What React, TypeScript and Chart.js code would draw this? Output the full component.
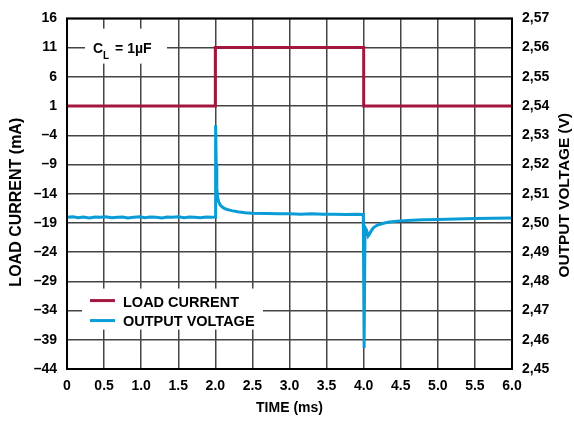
import React, { useEffect, useRef } from "react";
import { Chart, registerables } from "chart.js";

Chart.register(...registerables);

// Load current (mA) vs time (ms)
const currentTime = [0, 2.0, 2.0, 4.0, 4.0, 6.0];
const currentValues = [1, 1, 11, 11, 1, 1];

// Output voltage (V) vs time (ms)
const voltageTime = [
  0, 0.08, 0.15, 0.22, 0.3, 0.38, 0.45, 0.52, 0.6, 0.68, 0.75, 0.82, 0.9, 0.98,
  1.05, 1.12, 1.2, 1.28, 1.35, 1.42, 1.5, 1.58, 1.65, 1.72, 1.8, 1.88, 1.95, 1.998,
  2.004, 2.012, 2.02, 2.03, 2.045, 2.065, 2.09, 2.12, 2.16, 2.22, 2.3, 2.4, 2.5,
  2.7, 2.85, 3.0, 3.15, 3.3, 3.45, 3.6, 3.75, 3.9, 3.995,
  4.006, 4.018, 4.04, 4.06, 4.08, 4.1, 4.13, 4.18, 4.265, 4.35, 4.49, 4.65, 4.8,
  5.0, 5.25, 5.5, 5.75, 6.0,
];
const voltageValues = [
  2.5019, 2.5021, 2.5018, 2.502, 2.5017, 2.502, 2.5019, 2.5021, 2.5018, 2.5019, 2.502, 2.5017, 2.5019, 2.5021,
  2.5018, 2.502, 2.5019, 2.5017, 2.502, 2.5019, 2.5021, 2.5018, 2.502, 2.5019, 2.5018, 2.502, 2.5019, 2.502,
  2.5334, 2.52, 2.512, 2.5088, 2.5073, 2.5062, 2.5055, 2.505, 2.5046, 2.5042, 2.5038, 2.5035, 2.5033,
  2.5032, 2.5031, 2.5031, 2.503, 2.5031, 2.503, 2.503, 2.5029, 2.503, 2.5029,
  2.4572, 2.4985, 2.4975, 2.4955, 2.4962, 2.4972, 2.4983, 2.4992, 2.4999, 2.5003, 2.5007, 2.5009, 2.5011,
  2.5012, 2.5013, 2.5015, 2.5016, 2.5017,
];

const xTicks = [0, 0.5, 1.0, 1.5, 2.0, 2.5, 3.0, 3.5, 4.0, 4.5, 5.0, 5.5, 6.0];
const currentTicks = [-44, -39, -34, -29, -24, -19, -14, -9, -4, 1, 6, 11, 16];
const voltageTicks = [2.45, 2.46, 2.47, 2.48, 2.49, 2.5, 2.51, 2.52, 2.53, 2.54, 2.55, 2.56, 2.57];

const RED = "#A3173F";
const BLUE = "#0A9CD6";
const FONT = "'Liberation Sans', Arial, Helvetica, sans-serif";

const overlayPlugin = {
  id: "overlay",
  afterDraw(chart: any) {
    const { ctx, chartArea: ca, scales } = chart;
    const y = scales.y;
    ctx.save();
    // C_L label
    const y11 = y.getPixelForValue(11);
    ctx.fillStyle = "#fff";
    ctx.fillRect(ca.left + 18, y11 - 19, 82, 35);
    ctx.fillStyle = "#000";
    ctx.textBaseline = "alphabetic";
    ctx.textAlign = "left";
    ctx.font = `bold 14px ${FONT}`;
    let x = ca.left + 26;
    ctx.fillText("C", x, y11 + 5.5);
    x += ctx.measureText("C").width;
    ctx.font = `bold 10px ${FONT}`;
    ctx.fillText("L", x, y11 + 11);
    x += ctx.measureText("L").width;
    ctx.font = `bold 14px ${FONT}`;
    ctx.fillText(" = 1\u00B5F", x + 2, y11 + 5.5);

    // Legend
    const yl = y.getPixelForValue(-34);
    ctx.fillStyle = "#fff";
    ctx.fillRect(ca.left + 15, yl - 22, 181, 41);
    ctx.lineWidth = 3;
    ctx.strokeStyle = RED;
    ctx.beginPath();
    ctx.moveTo(ca.left + 23, yl - 10);
    ctx.lineTo(ca.left + 48, yl - 10);
    ctx.stroke();
    ctx.strokeStyle = BLUE;
    ctx.beginPath();
    ctx.moveTo(ca.left + 23, yl + 10);
    ctx.lineTo(ca.left + 48, yl + 10);
    ctx.stroke();
    ctx.fillStyle = "#000";
    ctx.font = `bold 14.5px ${FONT}`;
    ctx.textBaseline = "middle";
    ctx.fillText("LOAD CURRENT", ca.left + 56, yl - 8);
    ctx.fillText("OUTPUT VOLTAGE", ca.left + 56, yl + 11);

    // Frame
    ctx.strokeStyle = "#000";
    ctx.lineWidth = 2;
    ctx.strokeRect(ca.left, ca.top, ca.right - ca.left, ca.bottom - ca.top);

    // Axis titles (both read bottom-to-top)
    const midY = (ca.top + ca.bottom) / 2;
    ctx.textAlign = "center";
    ctx.textBaseline = "middle";
    ctx.font = `bold 16px ${FONT}`;
    ctx.save();
    ctx.translate(17, midY + 8.5);
    ctx.rotate(-Math.PI / 2);
    ctx.fillText("LOAD CURRENT (mA)", 0, 0);
    ctx.restore();
    ctx.font = `bold 15.4px ${FONT}`;
    ctx.save();
    ctx.translate(chart.width - 9, midY + 1.5);
    ctx.rotate(-Math.PI / 2);
    ctx.fillText("OUTPUT VOLTAGE (V)", 0, 0);
    ctx.restore();
    ctx.restore();
  },
};

function fmtCurrent(v: number) {
  return v < 0 ? "\u2013" + Math.abs(v) : String(v);
}

export default function App() {
  const ref = useRef<HTMLCanvasElement>(null);
  useEffect(() => {
    if (!ref.current) return;
    const currentData = currentTime.map((t, i) => ({ x: t, y: currentValues[i] }));
    const voltageData = voltageTime.map((t, i) => ({ x: t, y: voltageValues[i] }));
    const tickFont = { family: FONT, size: 14, weight: "bold" as const };
    const gridStyle = { color: "#444", lineWidth: 1.5, drawTicks: false };
    const chart = new Chart(ref.current, {
      type: "line",
      data: {
        datasets: [
          {
            label: "LOAD CURRENT",
            data: currentData,
            yAxisID: "y",
            borderColor: RED,
            backgroundColor: RED,
            borderWidth: 3,
            pointRadius: 0,
            tension: 0,
            order: 2,
          },
          {
            label: "OUTPUT VOLTAGE",
            data: voltageData,
            yAxisID: "y1",
            borderColor: BLUE,
            backgroundColor: BLUE,
            borderWidth: 3,
            pointRadius: 0,
            tension: 0,
            order: 1,
          },
        ],
      },
      options: {
        responsive: false,
        animation: false,
        layout: { padding: { top: 14, left: 0, right: 0, bottom: 0 } },
        plugins: { legend: { display: false }, tooltip: { enabled: false } },
        scales: {
          x: {
            type: "linear",
            min: 0,
            max: 6,
            afterBuildTicks: (s: any) => {
              s.ticks = xTicks.map((v) => ({ value: v }));
            },
            afterFit: (s: any) => {
              s.height = 52;
            },
            grid: gridStyle,
            border: { display: false },
            ticks: {
              color: "#000",
              font: tickFont,
              padding: 9,
              maxRotation: 0,
              autoSkip: false,
              callback: (v: any) => (v === 0 ? "0" : Number(v).toFixed(1)),
            },
            title: {
              display: true,
              text: "TIME (ms)",
              color: "#000",
              font: { family: FONT, size: 14, weight: "bold" },
              padding: { top: 0, bottom: 4 },
            },
          },
          y: {
            type: "linear",
            position: "left",
            min: -44,
            max: 16,
            afterBuildTicks: (s: any) => {
              s.ticks = currentTicks.map((v) => ({ value: v }));
            },
            afterFit: (s: any) => {
              s.width = 67;
            },
            grid: gridStyle,
            border: { display: false },
            ticks: {
              color: "#000",
              font: tickFont,
              padding: 10,
              autoSkip: false,
              callback: (v: any) => fmtCurrent(Number(v)),
            },
            title: { display: false },
          },
          y1: {
            type: "linear",
            position: "right",
            min: 2.45,
            max: 2.57,
            afterBuildTicks: (s: any) => {
              s.ticks = voltageTicks.map((v) => ({ value: v }));
            },
            afterFit: (s: any) => {
              s.width = 62;
            },
            grid: { display: false, drawTicks: false },
            border: { display: false },
            ticks: {
              color: "#000",
              font: tickFont,
              padding: 10,
              autoSkip: false,
              callback: (v: any) => Number(v).toFixed(2).replace(".", ","),
            },
            title: { display: false },
          },
        },
      },
      plugins: [overlayPlugin],
    });
    return () => chart.destroy();
  }, []);
  return (
    <div style={{ position: "absolute", left: 0, top: 0, width: 574, height: 421, background: "#fff" }}>
      <canvas ref={ref} width={574} height={421} style={{ display: "block" }} />
    </div>
  );
}
